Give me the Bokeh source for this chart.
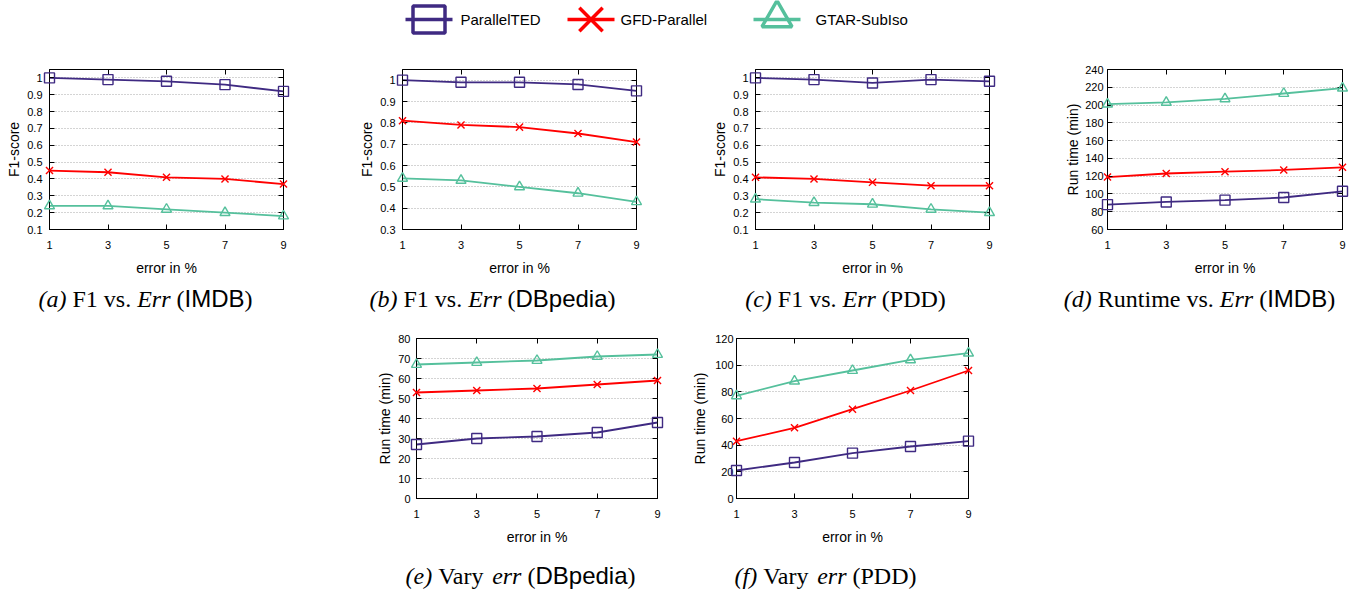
from bokeh.plotting import figure
from bokeh.layouts import column, row
from bokeh.models import Range1d, FixedTicker, Spacer, LinearAxis
from bokeh.core.properties import value
from bokeh.embed import file_html
from bokeh.resources import INLINE

# ---------------- data ----------------
ERR = [1, 3, 5, 7, 9]
SERIES = ["ParallelTED", "GFD-Parallel", "GTAR-SubIso"]

a_parallelted = [1.00, 0.99, 0.98, 0.96, 0.92]
a_gfd = [0.45, 0.44, 0.41, 0.40, 0.37]
a_gtar = [0.24, 0.24, 0.22, 0.20, 0.18]

b_parallelted = [1.00, 0.99, 0.99, 0.98, 0.95]
b_gfd = [0.81, 0.79, 0.78, 0.75, 0.71]
b_gtar = [0.54, 0.53, 0.50, 0.47, 0.43]

c_parallelted = [1.00, 0.99, 0.97, 0.99, 0.98]
c_gfd = [0.41, 0.40, 0.38, 0.36, 0.36]
c_gtar = [0.28, 0.26, 0.25, 0.22, 0.20]

d_parallelted = [88, 91, 93, 96, 103]
d_gfd = [119, 123, 125, 127, 130]
d_gtar = [201, 203, 207, 213, 219]

e_parallelted = [27, 30, 31, 33, 38]
e_gfd = [53, 54, 55, 57, 59]
e_gtar = [67, 68, 69, 71, 72]

f_parallelted = [21, 27, 34, 39, 43]
f_gfd = [43, 53, 67, 81, 96]
f_gtar = [77, 88, 96, 104, 109]

F1_TICKS_A = [0.1, 0.2, 0.3, 0.4, 0.5, 0.6, 0.7, 0.8, 0.9, 1.0]
F1_LABELS_A = ["0.1", "0.2", "0.3", "0.4", "0.5", "0.6", "0.7", "0.8", "0.9", "1"]
F1_TICKS_B = [0.3, 0.4, 0.5, 0.6, 0.7, 0.8, 0.9, 1.0]
F1_LABELS_B = ["0.3", "0.4", "0.5", "0.6", "0.7", "0.8", "0.9", "1"]
RT_TICKS_D = [60, 80, 100, 120, 140, 160, 180, 200, 220, 240]
RT_TICKS_E = [0, 10, 20, 30, 40, 50, 60, 70, 80]
RT_TICKS_F = [0, 20, 40, 60, 80, 100, 120]

X_LABEL = "error in %"
Y_LABEL_F1 = "F1-score"
Y_LABEL_RT = "Run time (min)"

# caption pieces: r = roman serif, i = italic serif, s = sans (no space before), n = roman (no space before)
CAPTIONS = [
    [("(a)", "i"), ("F1 vs.", "r"), ("Err", "i"), ("(", "r"), ("IMDB", "s"), (")", "n")],
    [("(b)", "i"), ("F1 vs.", "r"), ("Err", "i"), ("(", "r"), ("DBpedia", "s"), (")", "n")],
    [("(c)", "i"), ("F1 vs.", "r"), ("Err", "i"), ("(PDD)", "r")],
    [("(d)", "i"), ("Runtime vs.", "r"), ("Err", "i"), ("(", "r"), ("IMDB", "s"), (")", "n")],
    [("(e)", "i"), ("Vary", "r"), ("err", "i"), ("(", "r"), ("DBpedia", "s"), (")", "n")],
    [("(f)", "i"), ("Vary", "r"), ("err", "i"), ("(PDD)", "r")],
]

# ---------------- styles ----------------
COLORS = ["#3f2a82", "#ff0000", "#55c09c"]
MARKERS = ["square", "x", "triangle"]
SANS_FONT = "Liberation Sans"
SERIF_FONT = "Liberation Serif"

FRAME_H = 160
LEFT = 44


def panel(width, right, top, bottom, yr, yticks, ylabels, ylabel, series,
          tick_standoff, ylab_standoff):
    p = figure(width=width, height=top + FRAME_H + bottom,
               x_range=Range1d(1, 9), y_range=Range1d(*yr),
               output_backend="svg", toolbar_location=None,
               min_border_left=LEFT, min_border_right=right,
               min_border_top=top, min_border_bottom=bottom,
               background_fill_color="white", border_fill_color="white")
    p.outline_line_color = "black"
    p.outline_line_width = 1
    p.outline_line_alpha = 1
    p.xgrid.visible = False
    p.ygrid.grid_line_color = "#a8a8a8"
    p.ygrid.grid_line_dash = "1 2"
    p.ygrid.grid_line_width = 1
    p.ygrid.ticker = FixedTicker(ticks=yticks)

    xa = p.xaxis[0]
    xa.ticker = FixedTicker(ticks=ERR)
    xa.axis_label = X_LABEL
    ya = p.yaxis[0]
    ya.ticker = FixedTicker(ticks=yticks)
    ya.major_label_overrides = dict(zip([float(t) for t in yticks], ylabels))
    ya.axis_label = ylabel
    for ax in (xa, ya):
        ax.major_tick_in = 5
        ax.major_tick_out = 0
        ax.minor_tick_line_color = None
        ax.axis_line_color = "black"
        ax.major_tick_line_color = "black"
        ax.major_label_text_font = SANS_FONT
        ax.major_label_text_font_size = "11px"
        ax.major_label_text_color = "black"
        ax.axis_label_text_font = SANS_FONT
        ax.axis_label_text_font_size = "14px"
        ax.axis_label_text_font_style = "normal"
        ax.axis_label_text_color = "black"
    xa.major_label_standoff = 11
    xa.axis_label_standoff = 8
    ya.major_label_standoff = tick_standoff
    ya.axis_label_standoff = ylab_standoff

    # mirror ticks (top / right), as in the original
    for loc, ticks in (("above", ERR), ("right", yticks)):
        mirror = LinearAxis(ticker=FixedTicker(ticks=ticks), major_tick_in=5, major_tick_out=0,
                            minor_tick_line_color=None, major_label_text_font_size="0px",
                            major_label_text_color=None, major_label_standoff=0,
                            axis_line_color=None)
        p.add_layout(mirror, loc)

    for vals, color, marker in zip(series, COLORS, MARKERS):
        p.line(ERR, vals, line_color=color, line_width=1.8)
        p.scatter(ERR, vals, marker=marker, size=10, line_color=color,
                  fill_color=None, line_width=1.4, level="overlay")
    return p


# top row
pa = panel(353, 73, 11, 54, (0.1, 1.05), F1_TICKS_A, F1_LABELS_A, Y_LABEL_F1,
           [a_parallelted, a_gfd, a_gtar], 7, 2)
pb = panel(353, 73, 11, 54, (0.3, 1.05), F1_TICKS_B, F1_LABELS_B, Y_LABEL_F1,
           [b_parallelted, b_gfd, b_gtar], 7, 2)
pc = panel(353, 73, 11, 54, (0.1, 1.05), F1_TICKS_A, F1_LABELS_A, Y_LABEL_F1,
           [c_parallelted, c_gfd, c_gtar], 7, 2)
pd = panel(289, 9, 11, 54, (60, 240), RT_TICKS_D, [str(t) for t in RT_TICKS_D], Y_LABEL_RT,
           [d_parallelted, d_gfd, d_gtar], 4, 1)
# bottom row
pe = panel(317, 32, 13, 52, (0, 80), RT_TICKS_E, [str(t) for t in RT_TICKS_E], Y_LABEL_RT,
           [e_parallelted, e_gfd, e_gtar], 6, 2)
pf = panel(289, 10, 13, 52, (0, 120), RT_TICKS_F, [str(t) for t in RT_TICKS_F], Y_LABEL_RT,
           [f_parallelted, f_gfd, f_gtar], 3, 4)

TOTAL_W = 1352


def strip(h):
    s = figure(width=TOTAL_W, height=h, x_range=Range1d(0, TOTAL_W), y_range=Range1d(0, h),
               output_backend="svg", toolbar_location=None, x_axis_type=None, y_axis_type=None,
               min_border=0, background_fill_color="white", border_fill_color="white")
    s.outline_line_color = None
    s.grid.visible = False
    return s


# ---------------- legend strip ----------------
LEG_H = 58
leg = strip(LEG_H)
LEG_LINE_X0 = [405, 567, 753]   # page x where each legend line starts
LEG_LINE_LEN = 47
LEG_TEXT_X = [460, 620, 815]
LEG_Y = 19                      # page y of legend centre line

ly = LEG_H - LEG_Y
for i, name in enumerate(SERIES):
    x0 = LEG_LINE_X0[i]
    x1 = x0 + LEG_LINE_LEN
    xc = (x0 + x1) / 2
    leg.line([x0, x1], [ly, ly], line_color=COLORS[i], line_width=3.5)
    if MARKERS[i] == "square":
        leg.rect([xc], [ly], width=32, height=27, width_units="screen", height_units="screen",
                 line_color=COLORS[i], fill_color=None, line_width=3.5)
    elif MARKERS[i] == "x":
        leg.scatter([xc], [ly], marker="x", size=33, line_color=COLORS[i], line_width=3.5)
    else:
        leg.scatter([xc], [ly + 1.5], marker="triangle", size=30, line_color=COLORS[i],
                    fill_color=None, line_width=3.5)
    leg.text([LEG_TEXT_X[i]], [ly], text=[name], text_font=value(SANS_FONT),
             text_font_size="15px", text_baseline="middle", text_align="left",
             text_color="black")

# ---------------- caption strips ----------------
W_ROMAN = {' ': 250, '(': 333, ')': 333, '.': 250, 'F': 556, '1': 500, 'v': 500, 's': 389,
           'R': 667, 'u': 500, 'n': 500, 't': 278, 'i': 278, 'm': 778, 'e': 444, 'V': 722,
           'a': 444, 'r': 333, 'y': 500, 'P': 556, 'D': 722}
W_ITALIC = {'(': 333, ')': 333, 'a': 500, 'b': 500, 'c': 444, 'd': 500, 'e': 444, 'f': 278,
            'E': 611, 'r': 389}
W_SANS = {'I': 278, 'M': 833, 'D': 722, 'B': 667, 'p': 556, 'e': 556, 'd': 556, 'i': 222,
          'a': 556}
CAP_SIZE = 24


def seg_width(txt, style):
    tab = {"r": W_ROMAN, "n": W_ROMAN, "i": W_ITALIC, "s": W_SANS}[style]
    return sum(tab.get(ch, 500) for ch in txt) * CAP_SIZE / 1000.0


def draw_caption(s, segs, center_px, mid_y):
    space = W_ROMAN[' '] * CAP_SIZE / 1000.0
    parts = []
    total = 0.0
    for k, (txt, st) in enumerate(segs):
        gap = space if (k > 0 and st in ("r", "i")) else 0.0
        w = seg_width(txt, st)
        parts.append((gap, w))
        total += gap + w
    x = center_px - total / 2
    for (txt, st), (gap, w) in zip(segs, parts):
        x += gap
        font = SANS_FONT if st == "s" else SERIF_FONT
        fstyle = "italic" if st == "i" else "normal"
        s.text([x], [mid_y], text=[txt], text_font=value(font), text_font_style=fstyle,
               text_font_size="%dpx" % CAP_SIZE, text_baseline="middle",
               text_align="left", text_color="black")
        x += w


CAP1_H = 42
cap1 = strip(CAP1_H)
CAP1_CENTERS = [145, 492, 845, 1199]
for segs, cx in zip(CAPTIONS[:4], CAP1_CENTERS):
    draw_caption(cap1, segs, cx, CAP1_H - (298 - 283))

CAP2_H = 42
cap2 = strip(CAP2_H)
CAP2_CENTERS = [520, 825]
for segs, cx in zip(CAPTIONS[4:], CAP2_CENTERS):
    draw_caption(cap2, segs, cx, CAP2_H - (575 - 550))

layout = column(
    leg,
    row(Spacer(width=3, height=11 + FRAME_H + 54), pa, pb, pc, pd),
    cap1,
    row(Spacer(width=372, height=13 + FRAME_H + 52), pe, pf),
    cap2,
)

open("out.html", "w").write(file_html(layout, INLINE))
